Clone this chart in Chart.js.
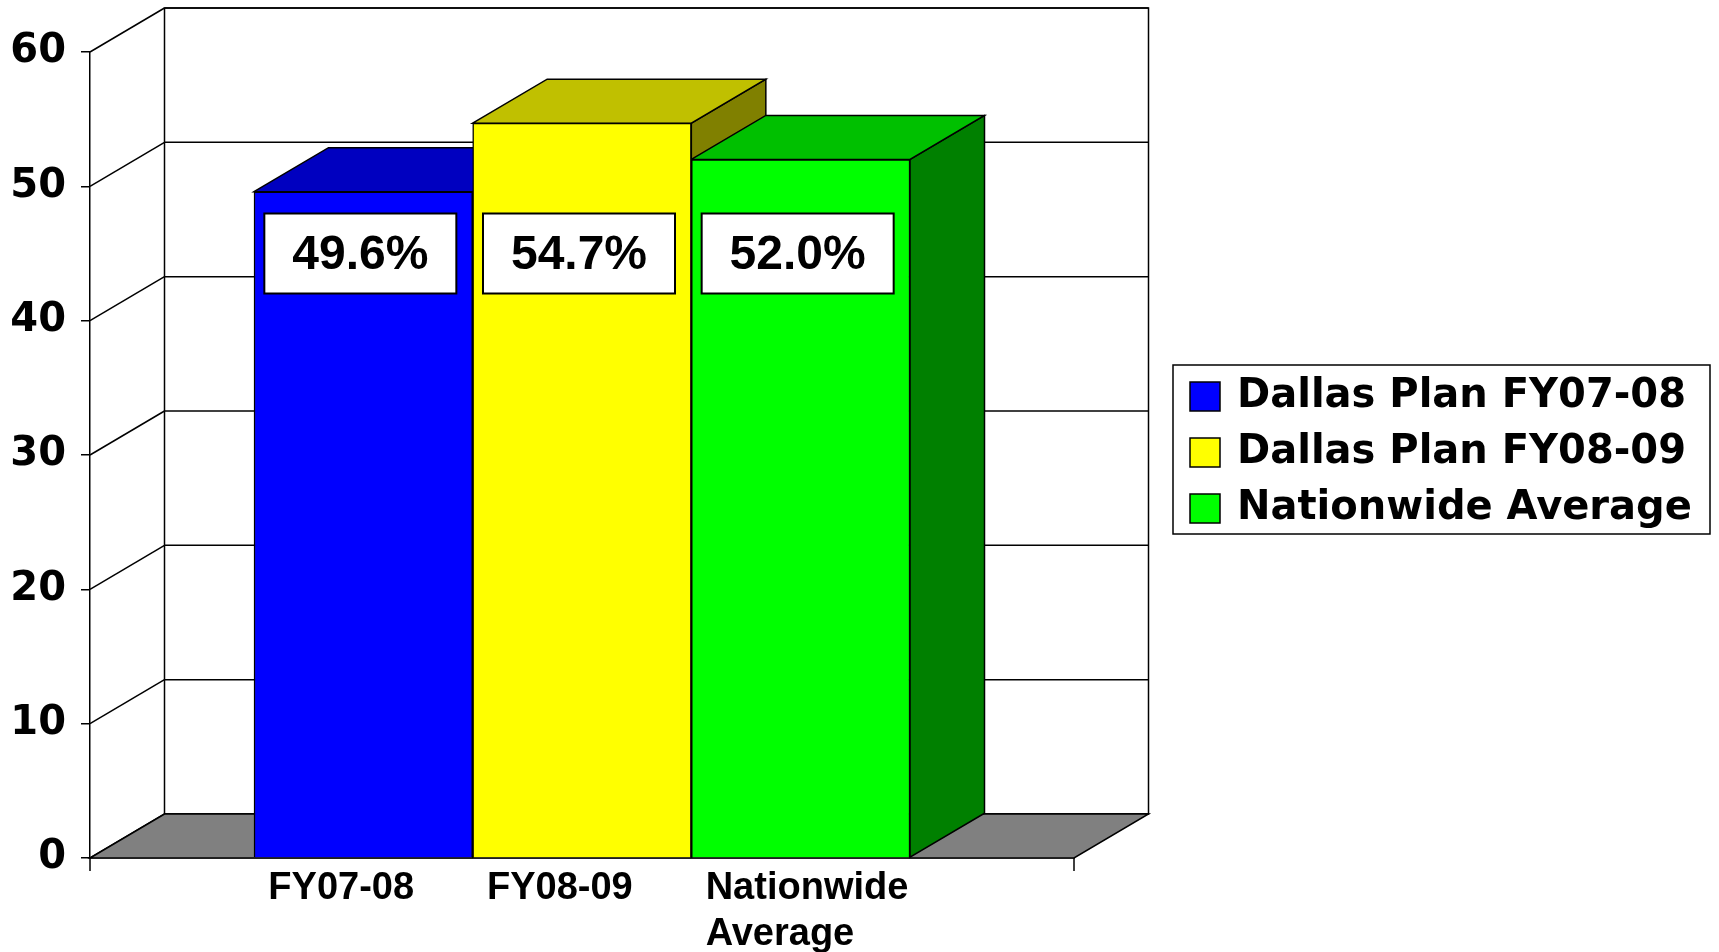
<!DOCTYPE html>
<html>
<head>
<meta charset="utf-8">
<script src="https://cdn.jsdelivr.net/npm/chart.js@4.4.1/dist/chart.umd.min.js"></script>
<style>
  html, body { margin: 0; padding: 0; background: #fff; }
</style>
</head>
<body>
<canvas id="myChart" width="1719" height="952"></canvas>
<script>
// labels under the bars and entries of the legend
const categories = ['FY07-08', 'FY08-09', ['Nationwide', 'Average']];
const seriesNames = ['Dallas Plan FY07-08', 'Dallas Plan FY08-09', 'Nationwide Average'];
const values = [49.6, 54.7, 52.0];
const yTicks = [0, 10, 20, 30, 40, 50, 60];

// front / top / side shade of every bar
const frontColors = ['#0000FF', '#FFFF00', '#00FF00'];
const topColors = ['#0000C0', '#C0C000', '#00C000'];
const sideColors = ['#000080', '#808000', '#008000'];

// depth of the 3d box (walls and bars)
const DX = 74.5, DY = -44;
const LABEL_LEVEL = 45;

function poly(ctx, pts, fill) {
    ctx.beginPath();
    ctx.moveTo(pts[0][0], pts[0][1]);
    for (let i = 1; i < pts.length; i++) ctx.lineTo(pts[i][0], pts[i][1]);
    ctx.closePath();
    if (fill) { ctx.fillStyle = fill; ctx.fill(); }
    ctx.stroke();
}

function line(ctx, x1, y1, x2, y2) {
    ctx.beginPath();
    ctx.moveTo(x1, y1);
    ctx.lineTo(x2, y2);
    ctx.stroke();
}

const box3d = {
    id: 'box3d',
    beforeDatasetsDraw(chart) {
        const { ctx, chartArea: a, scales: { y } } = chart;
        ctx.save();
        ctx.lineWidth = 1.5;
        ctx.strokeStyle = '#000';

        // walls with grid lines
        ctx.strokeRect(a.left + DX, a.top + DY, a.width, a.height);
        yTicks.forEach(v => {
            const py = y.getPixelForValue(v);
            line(ctx, a.left, py, a.left + DX, py + DY);
            line(ctx, a.left + DX, py + DY, a.right + DX, py + DY);
        });

        // floor
        poly(ctx, [[a.left, a.bottom], [a.right, a.bottom],
            [a.right + DX, a.bottom + DY], [a.left + DX, a.bottom + DY]], '#808080');

        // side and top of each bar, the front is drawn by chart.js
        const meta = chart.getDatasetMeta(0);
        meta.data.forEach((bar, i) => {
            const p = bar.getProps(['x', 'y', 'width', 'base'], true);
            const l = p.x - p.width / 2, r = p.x + p.width / 2;
            poly(ctx, [[r, p.y], [r + DX, p.y + DY], [r + DX, p.base + DY], [r, p.base]], sideColors[i]);
            poly(ctx, [[l, p.y], [l + DX, p.y + DY], [r + DX, p.y + DY], [r, p.y]], topColors[i]);
        });
        ctx.restore();
    },
    afterDraw(chart) {
        const { ctx, chartArea: a, scales: { y } } = chart;
        ctx.save();
        ctx.strokeStyle = '#000';

        // end ticks of the x axis
        ctx.lineWidth = 1.5;
        line(ctx, a.left, a.bottom, a.left, a.bottom + 13);
        line(ctx, a.right, a.bottom, a.right, a.bottom + 13);

        // value boxes
        const ly = y.getPixelForValue(LABEL_LEVEL);
        ctx.lineWidth = 2;
        ctx.font = 'bold 48px "Liberation Sans", Arial, sans-serif';
        ctx.textAlign = 'center';
        ctx.textBaseline = 'middle';
        chart.getDatasetMeta(0).data.forEach((bar, i) => {
            const bx = bar.x - 3;
            ctx.fillStyle = '#fff';
            ctx.fillRect(bx - 96, ly - 40, 192, 80);
            ctx.strokeRect(bx - 96, ly - 40, 192, 80);
            ctx.fillStyle = '#000';
            ctx.fillText(values[i].toFixed(1) + '%', bx, ly + 2);
        });

        // legend
        const lx = 1173, lt = 365, lw = 537, lh = 169;
        ctx.lineWidth = 1.5;
        ctx.strokeRect(lx, lt, lw, lh);
        ctx.font = 'bold 40px "DejaVu Sans", sans-serif';
        ctx.textAlign = 'left';
        seriesNames.forEach((name, i) => {
            const cy = lt + 31 + i * 56;
            ctx.fillStyle = frontColors[i];
            ctx.fillRect(lx + 17, cy - 14, 30, 29);
            ctx.strokeRect(lx + 17, cy - 14, 30, 29);
            ctx.fillStyle = '#000';
            ctx.fillText(name, lx + 64, cy + 1);
        });
        ctx.restore();
    }
};

const ctx = document.getElementById('myChart').getContext('2d');
const myChart = new Chart(ctx, {
    type: 'bar',
    data: {
        datasets: [{
            label: 'Values',
            data: values.map((v, i) => ({ x: i, y: v })),
            backgroundColor: frontColors,
            borderColor: '#000',
            borderWidth: 1.5,
            barPercentage: 1,
            categoryPercentage: 1
        }]
    },
    options: {
        responsive: false,
        animation: false,
        events: [],
        layout: { padding: { left: 0, top: 52, right: 645, bottom: 0 } },
        scales: {
            x: {
                type: 'linear',
                offset: false,
                min: -1.25,
                max: 3.25,
                afterBuildTicks: s => { s.ticks = categories.map((c, i) => ({ value: i })); },
                afterFit: s => { s.height = 94; },
                grid: { display: false, drawTicks: false, offset: false },
                border: { display: true, color: '#000', width: 1.5 },
                ticks: {
                    autoSkip: false,
                    maxRotation: 0,
                    align: 'start',
                    padding: 7,
                    labelOffset: -95,
                    color: '#000',
                    font: { family: '"Liberation Sans", Arial, sans-serif', weight: 'bold', size: 38, lineHeight: 1.22 },
                    callback: (v, i) => categories[i]
                }
            },
            y: {
                min: 0,
                max: 60,
                afterBuildTicks: s => { s.ticks = yTicks.map(v => ({ value: v })); },
                afterFit: s => { s.width = 90; },
                grid: { drawOnChartArea: false, drawTicks: true, tickLength: 9, color: '#000', lineWidth: 1.5 },
                border: { display: true, color: '#000', width: 1.5 },
                ticks: {
                    padding: 15,
                    color: '#000',
                    font: { family: '"DejaVu Sans", sans-serif', weight: 'bold', size: 40 }
                }
            }
        },
        plugins: {
            legend: { display: false },
            tooltip: { enabled: false }
        }
    },
    plugins: [box3d]
});
</script>
</body>
</html>
